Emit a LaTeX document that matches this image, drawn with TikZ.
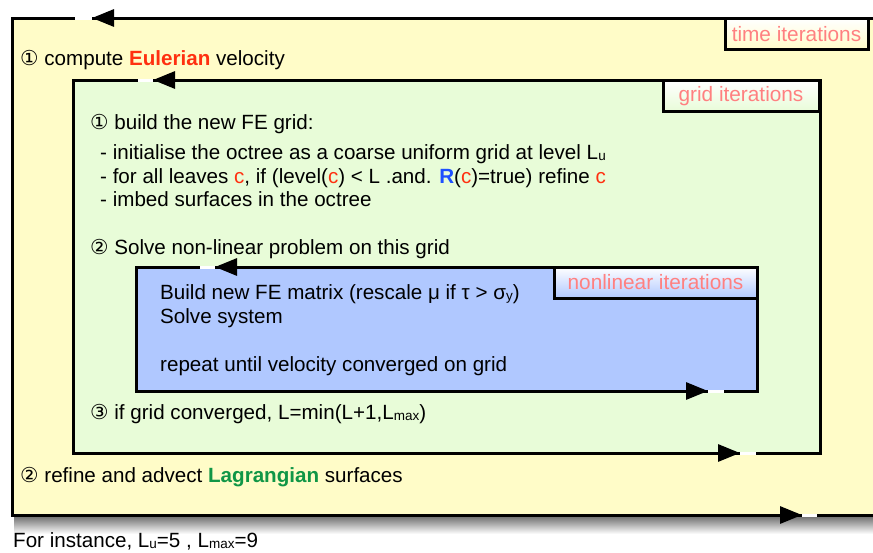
\documentclass[tikz,border=0pt]{standalone}
\usepackage{fontspec}
\setmainfont{Liberation Sans}
\newfontfamily\circfont{DejaVu Sans}
\usetikzlibrary{calc,arrows.meta}

\definecolor{timefill}{RGB}{255,252,200}
\definecolor{gridfill}{RGB}{232,252,216}
\definecolor{nlfill}{RGB}{176,200,255}
\definecolor{tabtext}{RGB}{255,128,128}
\definecolor{eulred}{RGB}{255,48,16}
\definecolor{laggreen}{RGB}{16,150,70}
\definecolor{rblue}{RGB}{30,80,255}

\newcommand{\leafc}{\textcolor{eulred}{c}}
\newcommand{\stepnum}[1]{{\circfont #1}}
\newcommand{\lowsub}[1]{\raisebox{-1.5pt}{\fontsize{13.5}{13.5}\selectfont #1}}

\begin{document}
\begin{tikzpicture}[x=1pt,y=-1pt,
    loopbox/.style={draw=black,line width=3pt},
    tabbox/.style={draw=black,line width=3pt,top color=white,inner sep=0pt,
      minimum height=31pt,text=tabtext,font=\fontsize{20.8}{22}\selectfont},
    gapline/.style={draw=white,line width=3pt},
    loopdir/.style={-{Triangle[length=22pt,width=17pt]},line width=3pt},
    txt/.style={anchor=base west,inner sep=0pt,font=\fontsize{20.6}{22}\selectfont}]
  \useasboundingbox (0,0) rectangle (873,552);

  %% shadow under the outer box
  \shade[top color=black!60,bottom color=white] (14,515) rectangle (885,534);

  %% Building the three loop boxes, outermost first
  \foreach \nm/\xa/\ya/\xb/\yb/\col in {time/12/18/885/515/timefill,
      grid/73/80/820/453/gridfill, nl/136/267/757/391/nlfill}
  {
    \coordinate (\nm-NW) at (\xa,\ya);
    \coordinate (\nm-SE) at (\xb,\yb);
    \draw[loopbox,fill=\col] (\nm-NW) rectangle (\nm-SE);
  }

  %% Arrows on the top edges (going left) and bottom edges (going right)
  \foreach \nm/\y/\ga/\gb in {time/18/75/92, grid/80/138/153, nl/267/200/215}
  {
    \coordinate (\nm-in) at (\gb,\y);
    \draw[gapline] (\ga,\y) -- (\nm-in);
    \draw[loopdir] ($(\nm-in)+(26,0)$) -- (\nm-in);
  }
  \foreach \nm/\y/\ga/\gb in {time/515/802/817, grid/453/740/756, nl/391/708/724}
  {
    \coordinate (\nm-out) at (\ga,\y);
    \draw[gapline] (\nm-out) -- (\gb,\y);
    \draw[loopdir] ($(\nm-out)-(26,0)$) -- (\nm-out);
  }

  %% Tabs naming the loops
  \node[tabbox,bottom color=timefill,minimum width=143pt] (timetab) at (796.5,34) {time iterations};
  \node[tabbox,bottom color=gridfill,minimum width=156pt] (gridtab) at (741,96) {grid iterations};
  \node[tabbox,bottom color=nlfill,minimum width=203pt] (nltab) at (655.5,282.5) {nonlinear iterations};

  %% Texts
  \node[txt] (euler) at (20,65) {\stepnum{①} compute \textbf{\textcolor{eulred}{Eulerian}} velocity};
  \node[txt] (build) at (90,129) {\stepnum{①} build the new FE grid:};
  \node[txt] (init) at (100,159) {- initialise the octree as a coarse uniform grid at level L\lowsub{u}};
  \node[txt] (leaves) at (100,183) {- for all leaves \leafc, if (level(\leafc) < L .and. \textbf{\textcolor{rblue}{R}}(\leafc)=true) refine \leafc};
  \node[txt] (imbed) at (100,206) {- imbed surfaces in the octree};
  \node[txt] (solve) at (90,254) {\stepnum{②} Solve non-linear problem on this grid};
  \node[txt] (matrix) at (160,299) {Build new FE matrix (rescale μ if τ > σ\lowsub{y})};
  \node[txt] (system) at (160,323) {Solve system};
  \node[txt] (repeat) at (160,371) {repeat until velocity converged on grid};
  \node[txt] (conv) at (90,419) {\stepnum{③} if grid converged, L=min(L+1,L\lowsub{max})};
  \node[txt] (lagr) at (20,482) {\stepnum{②} refine and advect \textbf{\textcolor{laggreen}{Lagrangian}} surfaces};
  \node[txt] (inst) at (13,547) {For instance, L\lowsub{u}=5 , L\lowsub{max}=9};
\end{tikzpicture}
\end{document}
